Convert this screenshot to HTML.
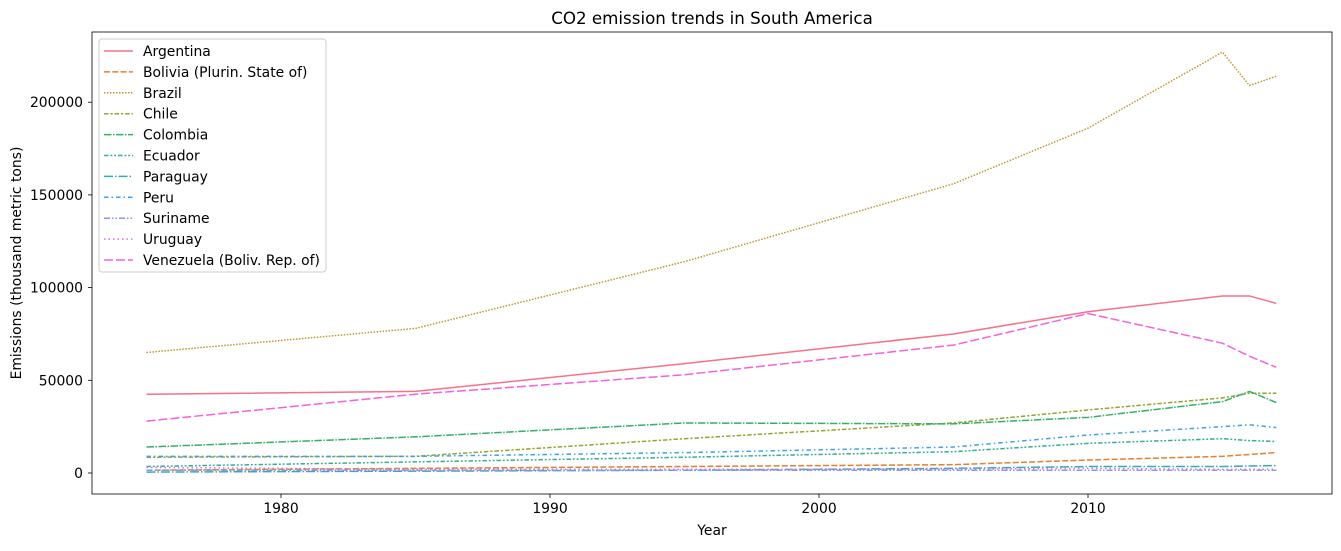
<!DOCTYPE html>
<html><head><meta charset="utf-8"><style>
body{margin:0;background:#fff;font-family:"DejaVu Sans",sans-serif}
text{font-family:"DejaVu Sans",sans-serif}
</style></head><body>
<svg id="chart" width="1341" height="547" xmlns="http://www.w3.org/2000/svg"></svg>
<script>
const years=[1975,1985,1995,2005,2010,2015,2016,2017];
const countries=["Argentina","Bolivia (Plurin. State of)","Brazil","Chile","Colombia","Ecuador","Paraguay","Peru","Suriname","Uruguay","Venezuela (Boliv. Rep. of)"];
const argentina=[42500,44000,59000,75000,87000,95500,95500,91500];
const bolivia=[1500,2500,3500,4500,7000,9000,10000,11000];
const brazil=[65000,78000,114000,156000,186000,227000,209000,214000];
const chile=[8500,9000,18500,27000,34000,40500,43000,43000];
const colombia=[14000,19500,27000,26500,30000,38500,44000,38000];
const ecuador=[3500,6000,8500,11500,16000,18500,17500,17000];
const paraguay=[500,1000,1500,2500,3500,3500,3800,4000];
const peru=[9000,9000,11000,14000,20500,25000,26000,24500];
const suriname=[1500,1500,1500,1500,1500,1500,1500,1500];
const uruguay=[3000,2000,2000,2000,2500,2000,2000,2000];
const venezuela=[28000,42500,53000,69000,86000,70000,63000,57000];
const xTicks=[1980,1990,2000,2010];
const yTicks=[0,50000,100000,150000,200000];
const series=[argentina,bolivia,brazil,chile,colombia,ecuador,paraguay,peru,suriname,uruguay,venezuela];
const colors=["#f77189","#e5802f","#bb9832","#97a431","#32b166","#34ae91","#37abb5","#3ba3ec","#8e96f4","#d470f0","#f561dd"];
const dashes=["","6,2.25","1.5,1.5","4.5,1.9,2.25,1.9","7.5,1.5,1.5,1.5","4.5,1.9,1.9,1.9,1.9,1.9","9,2,1.5,2","4.5,3,1.5,3","6,2,1.5,2,1.5,2","1.5,3","9,3"];
const L=92,R=1332,T=32,B=494;
const xs=y=>146.5+(y-1975)*26.9;
const ys=v=>473-v*(92.7/50000);
const svg=document.getElementById('chart');
const NS="http://www.w3.org/2000/svg";
function mk(tag,attrs,parent){const e=document.createElementNS(NS,tag);for(const k in attrs)e.setAttribute(k,attrs[k]);(parent||svg).appendChild(e);return e;}
let e;
e=mk('rect',{x:L,y:T,width:R-L,height:B-T,fill:'none',stroke:'#000','stroke-width':0.8});


xTicks.forEach(t=>{
  e=mk('line',{x1:xs(t),x2:xs(t),y1:B,y2:B+4,stroke:'#000','stroke-width':0.8});
  
  
  e=mk('text',{x:xs(t),y:B+19,'text-anchor':'middle','font-size':13.9});
  e.textContent=t;
  
  
});
yTicks.forEach(t=>{
  e=mk('line',{x1:L-4,x2:L,y1:ys(t),y2:ys(t),stroke:'#000','stroke-width':0.8});
  
  
  e=mk('text',{x:L-9,y:ys(t)+5,'text-anchor':'end','font-size':13.9});
  e.textContent=t;
  
  
});
series.forEach((s,i)=>{
  e=mk('polyline',{points:s.map((v,j)=>xs(years[j])+','+ys(v)).join(' '),fill:'none',stroke:colors[i],'stroke-width':1.5,'stroke-dasharray':dashes[i]});
  
  
});
e=mk('text',{x:712,y:24,'text-anchor':'middle','font-size':16.7});
e.textContent='CO2 emission trends in South America';


e=mk('text',{x:712,y:535,'text-anchor':'middle','font-size':13.9});
e.textContent='Year';


e=mk('text',{x:21,y:263,'text-anchor':'middle','font-size':13.9,transform:'rotate(-90 21 263)'});
e.textContent='Emissions (thousand metric tons)';


const lg=mk('g',{});


e=mk('rect',{x:99,y:39,width:227,height:233,rx:3,fill:'#fff','fill-opacity':0.8,stroke:'#ccc'},lg);


countries.forEach((c,i)=>{
  const y=51+i*20.9;
  e=mk('line',{x1:104,x2:133,y1:y,y2:y,stroke:colors[i],'stroke-width':1.5,'stroke-dasharray':dashes[i]},lg);
  
  
  e=mk('text',{x:143,y:y+5,'font-size':13.9},lg);
  e.textContent=c;
  
  
});
</script>
</body></html>
